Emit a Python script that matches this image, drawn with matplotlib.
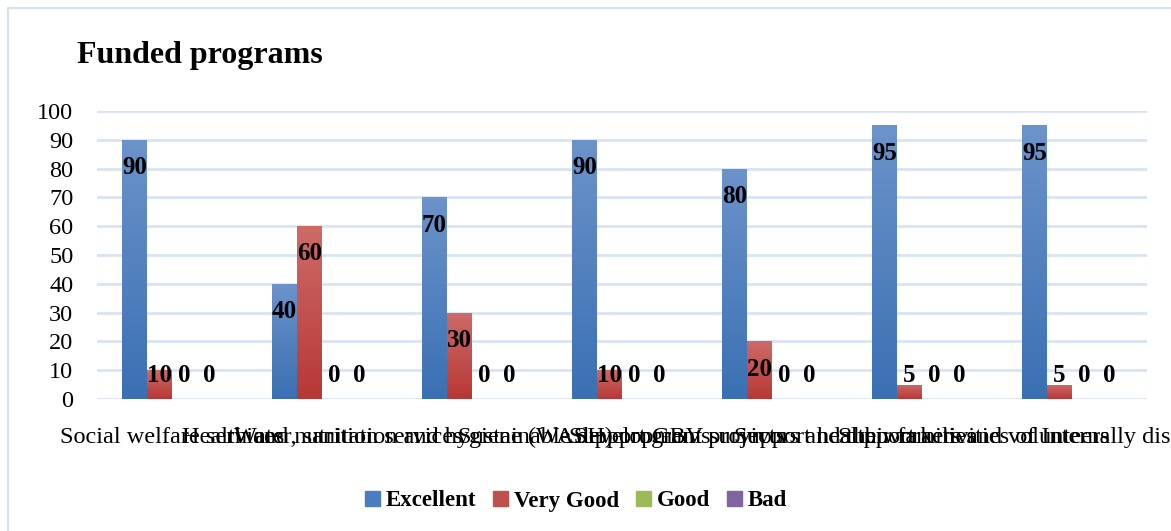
import numpy as np
import matplotlib
matplotlib.use("Agg")
import matplotlib.pyplot as plt
from matplotlib.colors import LinearSegmentedColormap
from matplotlib.patches import Rectangle

plt.rcParams['font.family'] = ['Liberation Serif', 'DejaVu Serif']

programs = [
    "Social welfare services",
    "Health and nutrition services",
    "Water, sanitation and hygiene (WASH) programs",
    "Sustainable development projects",
    "Support GBV survivors and their families",
    "Support health workers and volunteers",
    "Support activities of Internally displaced (IDPs)",
]
ratings = ["Excellent", "Very Good", "Good", "Bad"]
excellent = [90, 40, 70, 90, 80, 95, 95]
very_good = [10, 60, 30, 10, 20, 5, 5]
good = [0, 0, 0, 0, 0, 0, 0]
bad = [0, 0, 0, 0, 0, 0, 0]
series = [excellent, very_good, good, bad]

# (top, bottom) gradient shades per series
shades = [("#6C93CA", "#3A70B3"), ("#CD6B68", "#B73835"),
          ("#B0CC78", "#8DB34C"), ("#9479B5", "#6B4F92")]
legend_colors = ["#4A7DBD", "#C0504D", "#9BBB59", "#8064A2"]

W, H = 1171, 531
fig = plt.figure(figsize=(W / 100, H / 100), dpi=100)
fig.patch.set_facecolor("white")

# Light outer frame of the chart area
fig.add_artist(Rectangle((8 / W, -0.1), 1.2, 1 - 8 / H + 0.1, transform=fig.transFigure,
                         fill=False, edgecolor="#D6E2F0", linewidth=1.5))

ax = fig.add_axes([97 / W, 1 - 399 / H, 1050 / W, 288 / H])
ax.set_facecolor("none")
ax.set_xlim(-0.5, len(programs) - 0.5)
ax.set_ylim(0, 100)
for s in ax.spines.values():
    s.set_visible(False)
ax.set_yticks(np.arange(0, 101, 10))
ax.yaxis.grid(True, color="#D9E4F2", linewidth=2)
ax.set_axisbelow(True)
ax.tick_params(axis="y", length=0, pad=17, labelsize=17.5)
ax.tick_params(axis="x", length=0, pad=20, labelsize=17.5)
ax.set_xticks(range(len(programs)))
ax.set_xticklabels(programs)

x = np.arange(len(programs))
bw = 1 / 6
offsets = (np.arange(4) - 1.5) * bw
for i, (vals, name) in enumerate(zip(series, ratings)):
    bars = ax.bar(x + offsets[i], vals, width=bw, color=legend_colors[i], label=name, zorder=2)
    cmap = LinearSegmentedColormap.from_list(name, [shades[i][1], shades[i][0]])
    grad = np.linspace(0, 1, 256).reshape(-1, 1)
    for b, v in zip(bars, vals):
        bx, by = b.get_x(), b.get_y()
        if v > 0:
            im = ax.imshow(grad, extent=(bx, bx + b.get_width(), by, by + b.get_height()),
                           origin="lower", cmap=cmap, aspect="auto", zorder=2.5)
            im.set_clip_path(b)
        ax.text(bx + b.get_width() / 2, max(v - 9.6, 8.3), f"{v}", ha="center", va="center",
                fontsize=18, fontweight="bold", zorder=4)

ax.set_xlim(-0.5, len(programs) - 0.5)
ax.set_ylim(0, 100)

fig.text(77 / W, 1 - 55 / H, "Funded programs", fontsize=23, fontweight="bold",
         ha="left", va="center")

handles = [Rectangle((0, 0), 1, 1, color=c) for c in legend_colors]
fig.legend(handles, ratings, loc="center", bbox_to_anchor=(576 / W, 1 - 501 / H), ncol=4,
           frameon=False, prop={"size": 16.5, "weight": "bold"}, handlelength=0.65,
           handleheight=0.65, handletextpad=0.25, columnspacing=0.75)

fig.savefig("out.png", dpi=100)
